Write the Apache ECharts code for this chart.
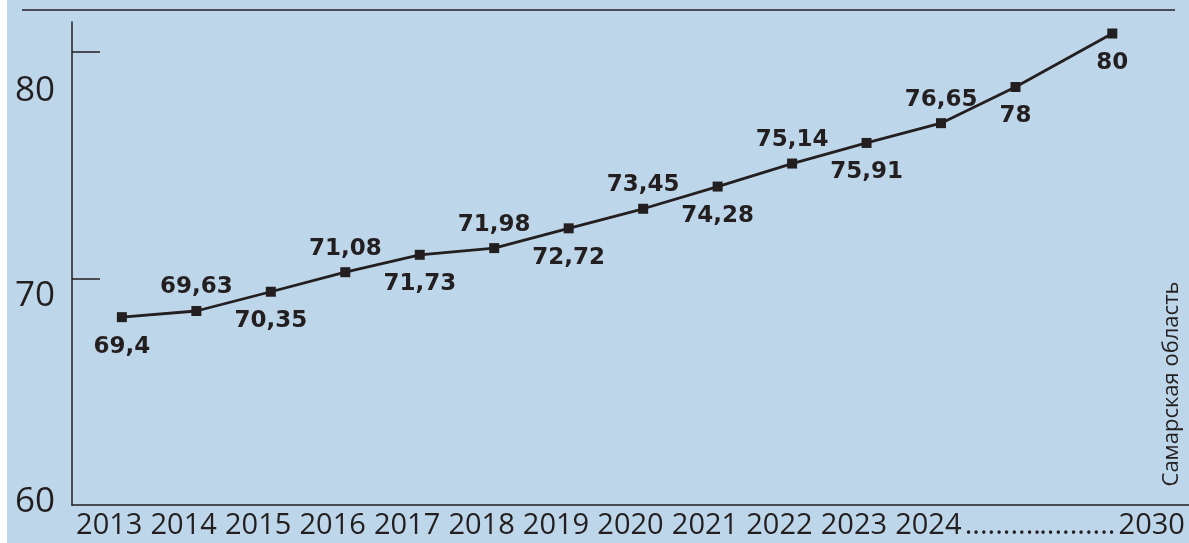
<!DOCTYPE html>
<html>
<head>
<meta charset="utf-8">
<script src="https://cdn.jsdelivr.net/npm/echarts@6/dist/echarts.min.js"></script>
<style>
  html, body { margin: 0; padding: 0; background: #fff; }
  #chart { width: 1189px; height: 543px; }
</style>
</head>
<body>
<div id="chart"></div>
<script>
// x axis labels (the gap between 2024 and 2030 is drawn as dots)
const yearLabels = ['2013', '2014', '2015', '2016', '2017', '2018', '2019', '2020',
  '2021', '2022', '2023', '2024', '..........', '..........', '2030']
// life expectancy values, as printed on the chart
const values = [69.4, 69.63, 70.35, 71.08, 71.73, 71.98, 72.72, 73.45, 74.28,
  75.14, 75.91, 76.65, 78, 80]
// slot of each point along the (broken) time axis
const pointSlot = [0, 1, 2, 3, 4, 5, 6, 7, 8, 9, 10, 11, 12, 13.3]
const yTicks = [60, 70, 80]

const ink = '#231f20'
// labels alternate below / above the line
const labelSide = ['bottom', 'top', 'bottom', 'top', 'bottom', 'top', 'bottom',
  'top', 'bottom', 'top', 'bottom', 'top', 'bottom', 'bottom']

const chart = echarts.init(document.getElementById('chart'))

const yLabelFont = { fontFamily: 'Open Sans', fontSize: 35, color: ink }

chart.setOption({
  backgroundColor: '#bed6e9',
  animation: false,
  grid: { left: 72, right: -6, top: 22, bottom: 38 },
  xAxis: [{
    type: 'category',
    data: yearLabels,
    boundaryGap: true,
    axisLine: { onZero: false, lineStyle: { color: ink, width: 1.5 } },
    axisTick: { inside: true, length: 14, lineStyle: { color: ink, width: 1.5 } },
    axisLabel: { interval: 0, color: ink, fontFamily: 'Open Sans', fontSize: 29, margin: 6 }
  }, {
    // hidden scale used to place the points
    type: 'value',
    show: false,
    min: -0.67,
    max: 14.33
  }],
  yAxis: [{
    type: 'value',
    min: yTicks[0],
    max: 81.32,
    interval: 10,
    splitLine: { show: false },
    axisLine: { show: true, onZero: false, lineStyle: { color: ink, width: 1.5 } },
    axisTick: {
      show: true,
      inside: true,
      length: 28,
      customValues: yTicks.slice(1),
      lineStyle: { color: ink, width: 1.5 }
    },
    axisLabel: {
      margin: 17,
      customValues: yTicks,
      formatter: v => '{r' + v + '|' + v + '}',
      rich: {
        r60: Object.assign({ padding: [0, 0, 6, 0] }, yLabelFont),
        r70: Object.assign({ padding: [36, 0, 0, 0] }, yLabelFont),
        r80: Object.assign({ padding: [78, 0, 0, 0] }, yLabelFont)
      }
    }
  }, {
    // the printed line is not drawn to the scale of the left axis
    type: 'value',
    show: false,
    min: 62.38,
    max: 80.43
  }],
  series: [{
    type: 'line',
    xAxisIndex: 1,
    yAxisIndex: 1,
    symbol: 'rect',
    symbolSize: 10,
    lineStyle: { color: ink, width: 2.8 },
    itemStyle: { color: ink },
    label: {
      show: true,
      color: ink,
      fontFamily: 'DejaVu Sans',
      fontWeight: 'bold',
      fontSize: 23,
      formatter: p => String(p.value[1]).replace('.', ',')
    },
    data: values.map((v, i) => ({
      value: [pointSlot[i], v],
      label: { position: labelSide[i], distance: labelSide[i] === 'top' ? 7 : 13 }
    }))
  }],
  graphic: [{
    type: 'rect',
    shape: { x: 0, y: 0, width: 7, height: 543 },
    style: { fill: '#fff' },
    z: 100
  }, {
    type: 'line',
    shape: { x1: 22, y1: 10, x2: 1175, y2: 10 },
    style: { stroke: ink, lineWidth: 1.5 }
  }, {
    type: 'text',
    x: 1172,
    y: 384,
    rotation: Math.PI / 2,
    style: {
      text: 'Самарская область',
      font: '22px "Open Sans"',
      fill: ink,
      align: 'center',
      verticalAlign: 'middle'
    }
  }]
})
</script>
</body>
</html>
